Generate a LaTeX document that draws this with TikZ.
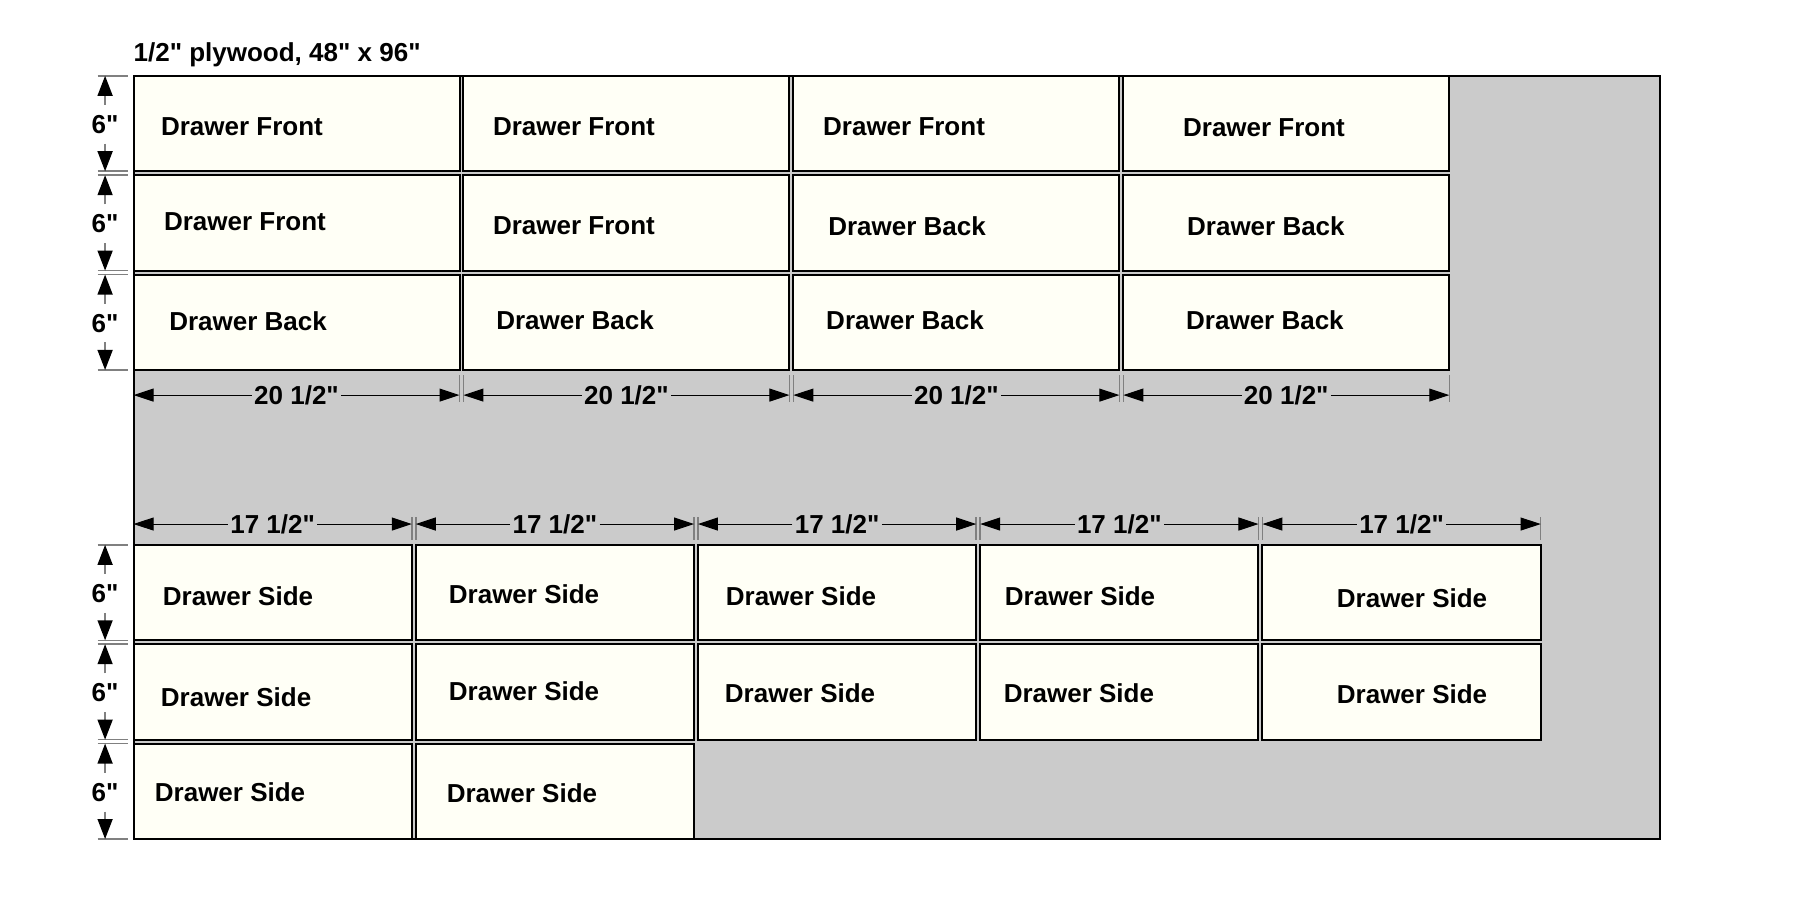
\documentclass[tikz,border=0pt]{standalone}
\usepackage{fontspec}
\newfontfamily\cutfont{Liberation Sans}
\usetikzlibrary{arrows.meta}
\definecolor{sheetgray}{RGB}{203,203,203}
\definecolor{partfill}{RGB}{255,255,246}
\definecolor{extgray}{RGB}{128,128,128}
\tikzset{font=\cutfont\fontsize{13}{15}\selectfont\bfseries}

\begin{document}
\begin{tikzpicture}[
            x=7.95pt, y=7.95pt,
            part/.style={draw=black, fill=partfill, line width=1pt},
            extline/.style={draw=extgray, line width=0.75pt},
            dimh/.style={draw=black, line width=0.5pt, -{Triangle[length=10pt,width=6.5pt]}},
            dimv/.style={draw=extgray, line width=0.75pt, -{Triangle[length=10pt,width=7.5pt,color=black,fill=black]}},
            dimlabel/.style={inner sep=1pt},
            sixlabel/.style={inner sep=0pt, minimum height=19pt}
            ]
            \useasboundingbox (-8.4,-5.03) rectangle (104.81,52.77);
            \fill[sheetgray] (0,0) rectangle (96,48);
            % fronts and backs
            \foreach \c in {0,...,3}
                \foreach \yb in {42,35.75,29.5}
                    \draw[part] ({\c*20.75},\yb) rectangle ++(20.5,6);
            % sides
            \foreach \c in {0,...,4}
                \foreach \yb in {12.5,6.25}
                    \draw[part] ({\c*17.75},\yb) rectangle ++(17.5,6);
            \foreach \c in {0,1}
                \draw[part] ({\c*17.75},0) rectangle ++(17.5,6);

            \node[anchor=base west] (title) at (-0.44,48.93) {1/2" plywood, 48" x 96"};

            % part labels
            \node (f1) at (6.82,44.78) {Drawer Front};
            \node (f2) at (27.7,44.78) {Drawer Front};
            \node (f3) at (48.46,44.78) {Drawer Front};
            \node (f4) at (71.1,44.74) {Drawer Front};
            \node (f5) at (7.01,38.81) {Drawer Front};
            \node (f6) at (27.7,38.55) {Drawer Front};
            \node (b1) at (48.65,38.55) {Drawer Back};
            \node (b2) at (71.22,38.55) {Drawer Back};
            \node (b3) at (7.2,32.58) {Drawer Back};
            \node (b4) at (27.77,32.64) {Drawer Back};
            \node (b5) at (48.52,32.64) {Drawer Back};
            \node (b6) at (71.16,32.64) {Drawer Back};
            \node (s1) at (6.57,15.28) {Drawer Side};
            \node (s2) at (24.56,15.41) {Drawer Side};
            \node (s3) at (41.98,15.28) {Drawer Side};
            \node (s4) at (59.53,15.28) {Drawer Side};
            \node (s5) at (80.41,15.16) {Drawer Side};
            \node (s6) at (6.45,8.93) {Drawer Side};
            \node (s7) at (24.56,9.31) {Drawer Side};
            \node (s8) at (41.92,9.18) {Drawer Side};
            \node (s9) at (59.46,9.18) {Drawer Side};
            \node (s10) at (80.41,9.12) {Drawer Side};
            \node (s11) at (6.07,2.96) {Drawer Side};
            \node (s12) at (24.43,2.89) {Drawer Side};

            % widths of fronts and backs
            \foreach \c in {0,...,3} {
                \pgfmathsetmacro\xl{\c*20.75}
                \pgfmathsetmacro\xr{\xl+20.5}
                \draw[extline] (\xl,29.18) -- (\xl,27.48);
                \draw[extline] (\xr,29.18) -- (\xr,27.48);
                \coordinate (wl\c) at (\xl,27.92);
                \coordinate (wr\c) at (\xr,27.92);
                \node[dimlabel] (w\c) at ({\xl+10.25},27.92) {20 1/2"};
                \draw[dimh] (w\c.west) -- (wl\c);
                \draw[dimh] (w\c.east) -- (wr\c);
            }
            % widths of sides
            \foreach \c in {0,...,4} {
                \pgfmathsetmacro\xl{\c*17.75}
                \pgfmathsetmacro\xr{\xl+17.5}
                \draw[extline] (\xl,20.25) -- (\xl,18.81);
                \draw[extline] (\xr,20.25) -- (\xr,18.81);
                \coordinate (vl\c) at (\xl,19.81);
                \coordinate (vr\c) at (\xr,19.81);
                \node[dimlabel] (v\c) at ({\xl+8.75},19.81) {17 1/2"};
                \draw[dimh] (v\c.west) -- (vl\c);
                \draw[dimh] (v\c.east) -- (vr\c);
            }
            % heights of the rows
            \foreach \r/\yb in {1/42,2/35.75,3/29.5,4/12.5,5/6.25,6/0} {
                \pgfmathsetmacro\yt{\yb+6}
                \draw[extline] (-2.26,\yb) -- (-0.38,\yb);
                \draw[extline] (-2.26,\yt) -- (-0.38,\yt);
                \coordinate (hb\r) at (-1.79,\yb);
                \coordinate (ht\r) at (-1.79,\yt);
                \node[sixlabel] (h\r) at (-1.79,{\yb+2.95}) {6"};
                \draw[dimv] (h\r.north) -- (ht\r);
                \draw[dimv] (h\r.south) -- (hb\r);
            }
            \draw[line width=1pt] (0,0) rectangle (96,48);
        \end{tikzpicture}
\end{document}
